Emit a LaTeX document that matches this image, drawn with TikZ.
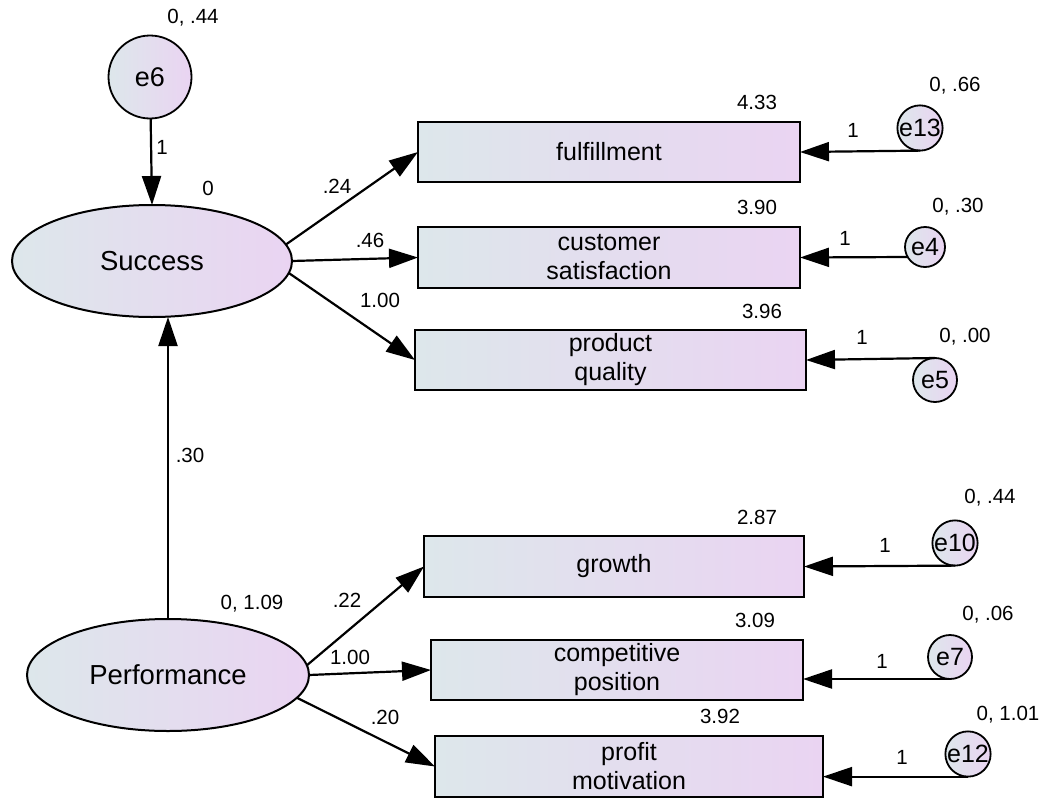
\documentclass[tikz,border=0pt]{standalone}
\usepackage{fontspec}
\setmainfont{Liberation Sans}
\usetikzlibrary{arrows.meta,shapes.geometric}
\definecolor{shadeL}{RGB}{221,231,235}
\definecolor{shadeR}{RGB}{234,212,242}
\begin{document}
\begin{tikzpicture}[x=1pt,y=-1pt,
  every node/.style={inner sep=0pt, outer sep=0pt},
  latent/.style={ellipse, draw, line width=2pt, left color=shadeL, right color=shadeR,
    minimum width=280pt, minimum height=112pt, font=\fontsize{27.5}{30}\selectfont},
  obs/.style={rectangle, draw, line width=2.2pt, left color=shadeL, right color=shadeR,
    minimum height=60pt, align=center, font=\fontsize{25}{29}\selectfont},
  err/.style={circle, draw, line width=1.8pt, left color=shadeL, right color=shadeR,
    minimum size=44pt, font=\fontsize{25}{27}\selectfont},
  num/.style={font=\fontsize{20.5}{22}\selectfont},
  reg/.style={draw, line width=2.2pt, -{Triangle[length=29pt,width=19pt]}}
]
\useasboundingbox (0,0) rectangle (1047,803);

% latent variables
\node[latent] (succ) at (152,261) {Success};
\node[latent, minimum width=282pt] (perf) at (168,675) {Performance};
\node[err, minimum size=83pt, font=\fontsize{27}{29}\selectfont] (e6) at (150,77) {e6};

% observed indicators
\node[obs, minimum width=382pt] (ful) at (609,152) {fulfillment};
\node[obs, minimum width=382pt, minimum height=61pt] (cus) at (609,257.5) {customer\\satisfaction};
\node[obs, minimum width=391pt] (pro) at (610.5,360) {product\\quality};
\node[obs, minimum width=380pt, minimum height=61pt] (gro) at (614,566.5) {growth};
\node[obs, minimum width=372pt] (com) at (617,670) {competitive\\position};
\node[obs, minimum width=388pt, minimum height=61pt] (prf) at (629,766.5) {profit\\motivation};

% error terms
\node[err] (e13) at (920,128) {e13};
\node[err, minimum size=40pt] (e4) at (925,247) {e4};
\node[err] (e5) at (935,380) {e5};
\node[err] (e10) at (955,543) {e10};
\node[err] (e7) at (950,657) {e7};
\node[err] (e12) at (968,754) {e12};

% regression paths
\draw[reg] (e6) -- (succ.north);
\draw[reg] (perf.north) -- (succ.south -| perf.north);
\draw[reg] (succ.7) -- (ful.west);
\draw[reg] (succ.east) -- (cus.west);
\draw[reg] (succ.-5) -- (pro.west);
\draw[reg] (perf.4) -- (gro.west);
\draw[reg] (perf.east) -- (com.west);
\draw[reg] (perf.-10) -- (prf.west);
\draw[reg] (e13.south) -- (ful.east);
\draw[reg] (e4.-150) -- (cus.east);
\draw[reg] (e5.north) -- (pro.east);
\draw[reg] (e10.south) -- (gro.east);
\draw[reg] (e7.south) -- (e7.south -| com.east);
\draw[reg] (e12.south) -- (e12.south -| prf.east);

% estimates
\node[num] (ve6) at (193,18) {0, .44};
\node[num] (w6) at (162,147) {1};
\node[num] (msucc) at (208,188) {0};
\node[num] (b30) at (190,455) {.30};
\node[num] (vperf) at (252,604) {0, 1.09};
\node[num] (b24) at (337,186) {.24};
\node[num] (b46) at (370,240) {.46};
\node[num] (b100a) at (380,300) {1.00};
\node[num] (b22) at (347,600) {.22};
\node[num] (b100b) at (350,657) {1.00};
\node[num] (b20) at (385,717) {.20};

\node[num] (m1) at (757,102) {4.33};
\node[num] (m2) at (757,207) {3.90};
\node[num] (m3) at (762,311) {3.96};
\node[num] (m4) at (757,517) {2.87};
\node[num] (m5) at (755,620) {3.09};
\node[num] (m6) at (720,716) {3.92};

\node[num] (v13) at (955,86) {0, .66};
\node[num] (v4) at (958,207) {0, .30};
\node[num] (v5) at (965,337) {0, .00};
\node[num] (v10) at (990,498) {0, .44};
\node[num] (v7) at (988,615) {0, .06};
\node[num] (v12) at (1008,715) {0, 1.01};

\node[num] (w13) at (853,130) {1};
\node[num] (w4) at (845,238) {1};
\node[num] (w5) at (862,337) {1};
\node[num] (w10) at (885,545) {1};
\node[num] (w7) at (882,661) {1};
\node[num] (w12) at (902,757) {1};
\end{tikzpicture}
\end{document}
